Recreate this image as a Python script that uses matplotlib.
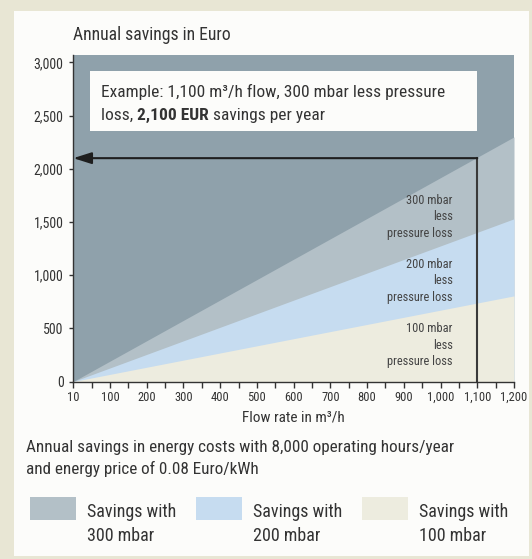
import matplotlib
matplotlib.use("Agg")
import matplotlib.pyplot as plt
from matplotlib import font_manager as fm
from matplotlib.patches import Rectangle

# data (flow rate m3/h -> annual savings in Euro)
flow = [0, 1200]
savings_300 = [0, 2300]
savings_200 = [0, 1530]
savings_100 = [0, 805]

x_ticks = list(range(0, 1201, 100))
x_labels = ["10", "100", "200", "300", "400", "500", "600", "700", "800",
            "900", "1,000", "1,100", "1,200"]
y_ticks = [0, 500, 1000, 1500, 2000, 2500, 3000]
y_labels = ["0", "500", "1,000", "1,500", "2,000", "2,500", "3,000"]

example_flow = 1100
example_saving = 2100

c_dark = "#8fa1ab"
c_300 = "#b3c0c7"
c_200 = "#c6dcf0"
c_100 = "#edecdf"
c_text = "#333333"

# the original uses a condensed grotesque; pick the narrowest installed match
fonts = fm.fontManager.ttflist
names = {f.name for f in fonts}
stretch = "normal"
if "Liberation Sans Narrow" in names:
    family = "Liberation Sans Narrow"
elif "Roboto Condensed" in names:
    family = "Roboto Condensed"
elif any(f.name == "DejaVu Sans" and "condensed" in str(f.stretch) for f in fonts):
    family = "DejaVu Sans"
    stretch = "condensed"
else:
    family = "Liberation Sans"

plt.rcParams["font.family"] = [family, "DejaVu Sans"]
plt.rcParams["font.stretch"] = stretch
plt.rcParams["text.color"] = c_text

W, H = 532, 559


def fx(px):
    return px / W


def fy(py):
    return 1 - py / H


fig = plt.figure(figsize=(W / 100, H / 100), dpi=100, facecolor="#e8e6d4")
fig.patches.append(Rectangle((fx(14), fy(556)), fx(515), 545 / H,
                             transform=fig.transFigure, facecolor="#fcfcfa",
                             edgecolor="none", zorder=0))

ax = fig.add_axes([fx(73.3), fy(381.5), fx(514 - 73.3), (381.5 - 55) / H])
ax.set_zorder(2)
ax.set_facecolor(c_dark)
ax.fill_between(flow, 0, savings_300, color=c_300, lw=0)
ax.fill_between(flow, 0, savings_200, color=c_200, lw=0)
ax.fill_between(flow, 0, savings_100, color=c_100, lw=0)
ax.set_xlim(0, 1200)
ax.set_ylim(0, 3070)

for s in ["top", "right"]:
    ax.spines[s].set_visible(False)
for s in ["left", "bottom"]:
    ax.spines[s].set_color(c_text)
    ax.spines[s].set_linewidth(1)

ax.set_xticks(x_ticks)
ax.set_xticklabels(x_labels)
ax.set_xticks(range(50, 1200, 100), minor=True)
ax.set_yticks(y_ticks)
ax.set_yticklabels(y_labels)
ax.tick_params(axis="x", which="both", length=4, width=1, color=c_text,
               labelsize=9, pad=3, labelcolor=c_text)
ax.tick_params(axis="y", length=3, width=1, color=c_text,
               labelsize=10, pad=4, labelcolor=c_text)

# example: arrow from 1,100 m3/h to 2,100 EUR
ax.plot([example_flow, example_flow], [0, example_saving], color="#3a3a3a", lw=1.5)
ax.annotate("", xy=(0, example_saving), xytext=(example_flow, example_saving),
            arrowprops=dict(arrowstyle="-|>,head_length=1.1,head_width=0.35",
                            color="#1e1e1e", lw=1.5, shrinkA=0, shrinkB=0))

ax.add_patch(Rectangle((45, 2360), 1053, 560, facecolor="#fcfcfa", edgecolor="none"))
ax.text(76, 2720, "Example: 1,100 m³/h flow, 300 mbar less pressure",
        fontsize=12.5, va="center", ha="left")
t1 = ax.text(76, 2505, "loss, ", fontsize=12.5, va="center", ha="left")
t2 = ax.annotate("2,100 EUR", xy=(1, 0), xycoords=t1, va="bottom", ha="left",
                 fontsize=12.5, fontweight="bold")
ax.annotate(" savings per year", xy=(1, 0), xycoords=t2, va="bottom", ha="left",
            fontsize=12.5)

label_kw = dict(fontsize=8.9, ha="right", va="center", color="#444444", linespacing=1.38)
ax.text(1033, 1547, "300 mbar\nless\npressure loss", **label_kw)
ax.text(1033, 945, "200 mbar\nless\npressure loss", **label_kw)
ax.text(1033, 343, "100 mbar\nless\npressure loss", **label_kw)

fig.text(fx(73), fy(35), "Annual savings in Euro", fontsize=12.7, va="center")
fig.text(fx(293), fy(417), "Flow rate in m³/h", fontsize=11, ha="center", va="center")
fig.text(fx(26), fy(458.5),
         "Annual savings in energy costs with 8,000 operating hours/year\n"
         "and energy price of 0.08 Euro/kWh",
         fontsize=12.3, va="center", linespacing=1.4)

legend_items = [(30, c_300, "300 mbar"), (196, c_200, "200 mbar"), (362, c_100, "100 mbar")]
for x0, col, lab in legend_items:
    fig.patches.append(Rectangle((fx(x0), fy(520)), fx(46), 23 / H,
                                 transform=fig.transFigure, facecolor=col,
                                 edgecolor="none"))
    fig.text(fx(x0 + 57), fy(524), "Savings with\n" + lab, fontsize=13,
             va="center", linespacing=1.4)

fig.savefig("out.png", dpi=100, facecolor=fig.get_facecolor())
